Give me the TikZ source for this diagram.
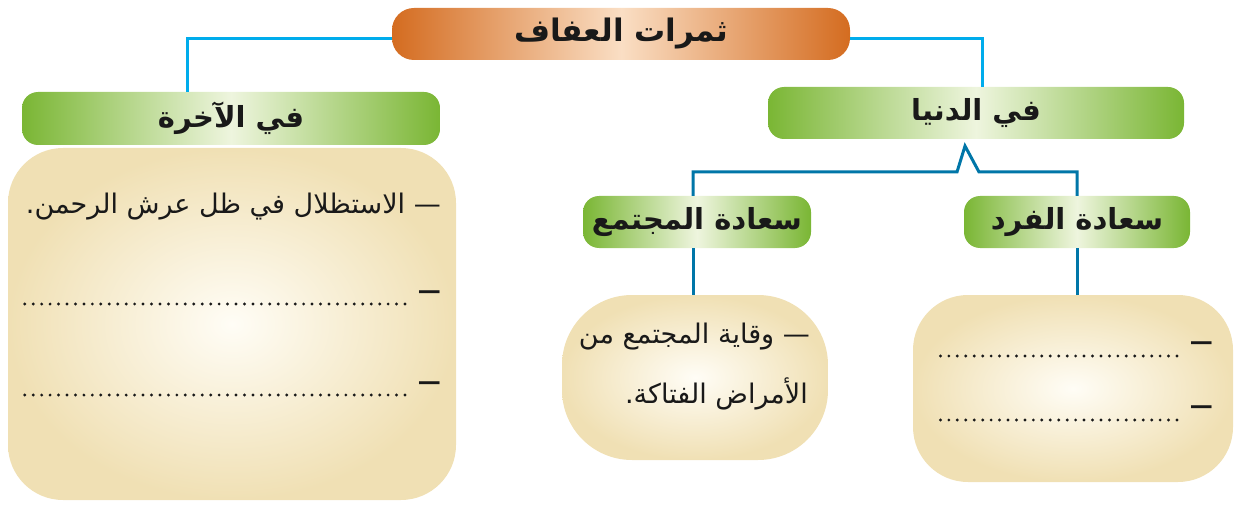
\documentclass[tikz,border=0pt]{standalone}
\usepackage{fontspec}
\newfontfamily\arabicfont[Script=Arabic]{DejaVu Sans}
\TeXXeTstate=1
\definecolor{orangeE}{RGB}{212,108,32}
\definecolor{orangeM}{RGB}{250,222,196}
\definecolor{greenE}{RGB}{122,182,52}
\definecolor{greenM}{RGB}{238,245,222}
\definecolor{beigeO}{RGB}{240,224,180}
\definecolor{beigeI}{RGB}{255,253,246}
\definecolor{cyanL}{RGB}{0,172,236}
\definecolor{blueL}{RGB}{0,118,168}
\definecolor{ink}{RGB}{25,25,25}
\tikzset{
  titlebox/.style={rounded corners=22pt, left color=orangeE, right color=orangeE, middle color=orangeM, draw=none, inner sep=0pt, font=\arabicfont\bfseries\fontsize{31}{34}\selectfont, text=ink},
  headbox/.style={rounded corners=16pt, left color=greenE, right color=greenE, middle color=greenM, draw=none, inner sep=0pt, font=\arabicfont\bfseries\fontsize{29}{32}\selectfont, text=ink},
  notebox/.style={inner color=beigeI, outer color=beigeO, draw=none, inner sep=0pt},
  linetext/.style={anchor=base east, inner sep=0pt, font=\arabicfont\fontsize{27}{30}\selectfont, text=ink},
  dashtext/.style={anchor=base east, inner sep=0pt, font=\arabicfont\bfseries\fontsize{23}{26}\selectfont, text=ink},
  toplink/.style={draw=cyanL, line width=3pt},
  sublink/.style={draw=blueL, line width=3pt},
  dotline/.style={draw=ink, line width=3.2pt, line cap=round, dash pattern=on 0pt off 8.45pt}
}
\begin{document}
\begin{tikzpicture}[x=1pt,y=-1pt]
\useasboundingbox (0,0) rectangle (1236,505);
% boxes
\node[notebox, rounded corners=55pt, minimum width=448pt, minimum height=352pt] (lb) at (232,324) {};
\node[notebox, rounded corners=70pt, minimum width=266pt, minimum height=165pt] (mb) at (695,377.5) {};
\node[notebox, rounded corners=55pt, minimum width=320pt, minimum height=187pt] (rb) at (1073,388.5) {};
\node[titlebox, minimum width=458pt, minimum height=52pt] (title) at (621,34) {\beginR ثمرات العفاف\endR};
\node[headbox, minimum width=418pt, minimum height=53pt] (akh) at (231,118.5) {\beginR في الآخرة\endR};
\node[headbox, minimum width=416pt, minimum height=52pt] (dun) at (976,113) {\beginR في الدنيا\endR};
\node[headbox, minimum width=228pt, minimum height=52pt] (mj) at (697,222) {\beginR سعادة المجتمع\endR};
\node[headbox, minimum width=226pt, minimum height=52pt] (fr) at (1077,222) {\beginR سعادة الفرد\endR};
% connectors
\coordinate (tl) at ([yshift=-5pt]title.west);
\coordinate (tr) at ([yshift=-5pt]title.east);
\draw[toplink] (tl) -| (akh.north -| 187,0);
\draw[toplink] (tr) -| ([xshift=6pt]dun.north);
\coordinate (peak) at (965,146);
\coordinate (bl) at (957,172);
\coordinate (br) at (979,172);
\draw[sublink, line join=miter] (mj.north -| 693,0) |- (bl) -- (peak) -- (br) -| (fr.north);
\draw[sublink] (mj.south -| 693,0) -- (mb.north -| 693,0);
\draw[sublink] (fr.south) -- (rb.north -| fr.south);
% left box text
\node[linetext] (l1) at (441,214) {\beginR — الاستظلال في ظل عرش الرحمن.\endR};
\node[dashtext] (l2) at (441,298) {—};
\node[dashtext] (l3) at (441,389) {—};
\coordinate (l2a) at (405,304);
\coordinate (l2b) at (24,304);
\coordinate (l3a) at (405,395);
\coordinate (l3b) at (24,395);
\draw[dotline] (l2a) -- (l2b);
\draw[dotline] (l3a) -- (l3b);
% middle box text
\node[linetext] (m1) at (810,343) {\beginR — وقاية المجتمع من\endR};
\node[linetext] (m2) at (808,403) {\beginR الأمراض الفتاكة.\endR};
% right box text
\node[dashtext] (r1) at (1213,349) {—};
\node[dashtext] (r2) at (1213,413) {—};
\coordinate (r1a) at (1177,356);
\coordinate (r1b) at (940,356);
\coordinate (r2a) at (1177,420);
\coordinate (r2b) at (940,420);
\draw[dotline] (r1a) -- (r1b);
\draw[dotline] (r2a) -- (r2b);
\end{tikzpicture}
\end{document}
